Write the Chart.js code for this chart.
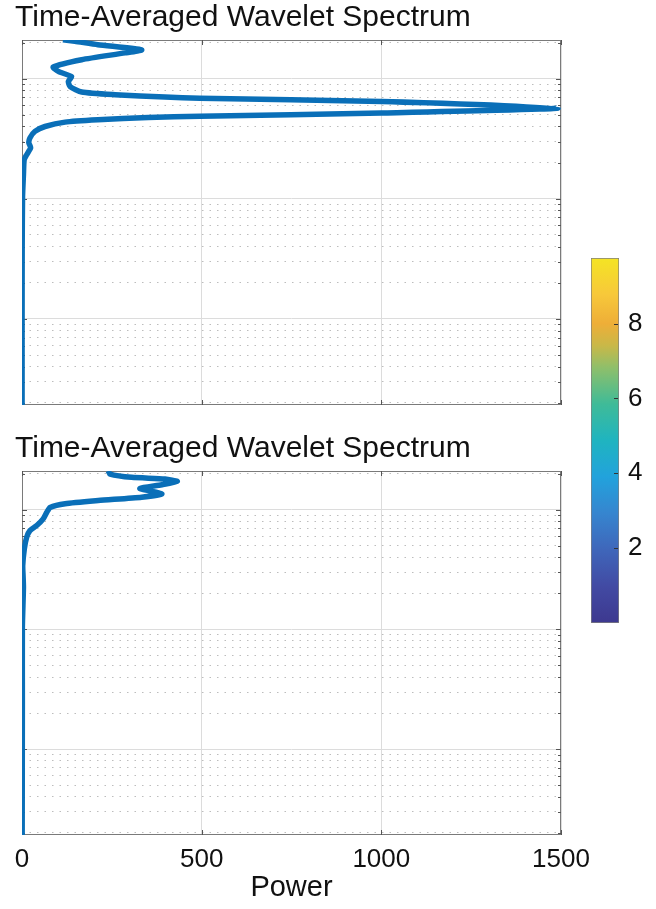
<!DOCTYPE html>
<html>
<head>
<meta charset="utf-8">
<script src="https://cdn.jsdelivr.net/npm/chart.js@4.4.1/dist/chart.umd.min.js"></script>
<style>
  html, body { margin: 0; padding: 0; background: #fff; }
  body { width: 656px; height: 909px; position: relative; overflow: hidden; }
  .box { position: absolute; }
</style>
</head>
<body>
<div class="box" style="left:0;top:0;width:600px;height:410px"><canvas id="topChart"></canvas></div>
<div class="box" style="left:0;top:431px;width:600px;height:478px"><canvas id="bottomChart"></canvas></div>
<div class="box" style="left:585px;top:240px;width:71px;height:400px"><canvas id="colorbar"></canvas></div>
<script>
// Period (log axis, top to bottom) and averaged power
const topPeriod = [211, 205, 192, 174, 164, 144, 125, 115, 104, 95, 86, 77.5, 73.6, 70.4, 68.8, 64.7, 57.0,
    51.8, 48.7, 47.6, 45.5, 43.5, 40.0, 36.4, 32.1, 29.3, 26.6, 23.3, 21.1, 15.8, 10.4, 3.76, 1.44, 0.552, 0.192];
const topPower = [114, 147, 211, 333, 287, 166, 87, 101, 138, 129, 134, 166, 259, 398, 495, 1001, 1492,
    1001, 495, 351, 211, 120, 64, 36, 22, 19, 24, 13, 6, 4, 1.5, 0.5, 0.3, 0.2, 0.2];

// Same for the lower panel
const bottomPeriod = [211, 198, 186, 180, 172, 161, 150, 144, 135, 127, 119, 112, 104, 95, 83.6, 73.6, 66.8,
    58.8, 47.0, 34.1, 28, 22.4, 10.4, 2.56, 0.192];
const bottomPower = [240, 245, 305, 398, 432, 389, 328, 352, 389, 333, 212, 120, 78, 69, 59, 41, 22,
    13, 6.5, 2, 3, 4, 1, 1, 0.5];

const powerTicks = [0, 500, 1000, 1500];
const periodRange = [0.192, 210];
const colorbarTicks = [2, 4, 6, 8];
const colorbarRange = [0, 9.75];
// colormap as it looks in the picture, bottom to top
const colormapStops = [
    [0.00, '#3d388f'], [0.10, '#424aa3'], [0.20, '#3f66ba'], [0.30, '#3685cf'],
    [0.40, '#22a2dc'], [0.50, '#1fb4c0'], [0.60, '#3fbb98'], [0.70, '#8fbf6a'],
    [0.76, '#c9b848'], [0.82, '#eeae38'], [0.90, '#f7c83a'], [1.00, '#f4e424']
];
const titleText = 'Time-Averaged Wavelet Spectrum';

Chart.defaults.font.family = "'Liberation Sans', Arial, Helvetica, sans-serif";
Chart.defaults.color = '#111';

// Grid positions for the log axis: 1..9 times each decade
const periodGrid = [];
for (let e = -1; e <= 2; e++) {
    for (let m = 1; m <= 9; m++) {
        const v = m * Math.pow(10, e);
        if (v > periodRange[0] && v < periodRange[1]) periodGrid.push(v);
    }
}

function isDecade(v) {
    const l = Math.log10(v);
    return Math.abs(l - Math.round(l)) < 1e-9;
}

// Axes box and small inward tick marks, drawn under the curve
const boxPlugin = {
    id: 'axesBox',
    beforeDatasetsDraw(chart) {
        const { ctx, chartArea: a, scales } = chart;
        ctx.save();
        ctx.strokeStyle = '#7a7a7a';
        ctx.lineWidth = 1;
        ctx.strokeRect(Math.round(a.left) + 0.5, Math.round(a.top) + 0.5, Math.round(a.width) - 1, Math.round(a.height) - 1);
        ctx.strokeStyle = '#555';
        ctx.beginPath();
        scales.y.ticks.forEach(t => {
            const y = Math.round(scales.y.getPixelForValue(t.value)) + 0.5;
            const len = isDecade(t.value) ? 5 : 3;
            ctx.moveTo(a.left, y); ctx.lineTo(a.left + len, y);
            ctx.moveTo(a.right, y); ctx.lineTo(a.right - len, y);
        });
        scales.x.ticks.forEach(t => {
            const x = Math.round(scales.x.getPixelForValue(t.value)) + 0.5;
            ctx.moveTo(x, a.top); ctx.lineTo(x, a.top + 5);
            ctx.moveTo(x, a.bottom); ctx.lineTo(x, a.bottom - 5);
        });
        ctx.stroke();
        ctx.restore();
    }
};

// Tick marks on the inner right edge of the colorbar
const colorbarTickPlugin = {
    id: 'colorbarTicks',
    afterDatasetsDraw(chart) {
        const { ctx, chartArea: a, scales } = chart;
        ctx.save();
        ctx.strokeStyle = '#333';
        ctx.lineWidth = 1;
        ctx.beginPath();
        scales.y.ticks.forEach(t => {
            const y = Math.round(scales.y.getPixelForValue(t.value)) + 0.5;
            ctx.moveTo(a.right - 1, y); ctx.lineTo(a.right - 5, y);
        });
        ctx.stroke();
        ctx.restore();
    }
};

function makeSpectrum(canvasId, periods, powers, showXAxis) {
    const points = periods.map((p, i) => ({ x: powers[i], y: p }));
    return new Chart(document.getElementById(canvasId), {
        type: 'scatter',
        data: {
            datasets: [{
                data: points,
                showLine: true,
                borderColor: '#0a6fb8',
                borderWidth: 5.5,
                pointRadius: 0,
                tension: 0.2,
                fill: false
            }]
        },
        options: {
            responsive: true,
            maintainAspectRatio: false,
            animation: false,
            layout: { padding: { left: 15, right: 39, top: 0, bottom: showXAxis ? 4 : 5 } },
            plugins: {
                legend: { display: false },
                tooltip: { enabled: false },
                title: {
                    display: true,
                    text: titleText,
                    align: 'start',
                    color: '#111',
                    font: { size: 30, weight: 'normal' },
                    padding: { top: 0, bottom: 4 }
                }
            },
            scales: {
                x: {
                    type: 'linear',
                    min: powerTicks[0],
                    max: powerTicks[powerTicks.length - 1],
                    afterBuildTicks: axis => { axis.ticks = powerTicks.map(v => ({ value: v })); },
                    afterFit: axis => { axis.height = showXAxis ? 70 : 0; },
                    grid: { color: '#dcdcdc', lineWidth: 1, drawTicks: false },
                    border: { display: false },
                    ticks: {
                        display: showXAxis,
                        padding: 9,
                        color: '#111',
                        font: { size: 26 },
                        callback: v => String(v)
                    },
                    title: {
                        display: showXAxis,
                        text: 'Power',
                        color: '#111',
                        font: { size: 29 },
                        padding: { top: 0, bottom: 0 }
                    }
                },
                y: {
                    type: 'logarithmic',
                    min: periodRange[0],
                    max: periodRange[1],
                    afterBuildTicks: axis => { axis.ticks = periodGrid.map(v => ({ value: v })); },
                    afterFit: axis => { axis.width = 7; },
                    grid: {
                        drawTicks: false,
                        lineWidth: 1,
                        color: ctx => (ctx.tick && isDecade(ctx.tick.value)) ? '#dcdcdc' : '#bdbdbd'
                    },
                    border: {
                        display: false,
                        dash: ctx => (ctx.tick && isDecade(ctx.tick.value)) ? [] : [1.5, 6]
                    },
                    ticks: { display: false }
                }
            }
        },
        plugins: [boxPlugin]
    });
}

function colormapGradient(ctx) {
    const area = ctx.chart.chartArea;
    if (!area) return colormapStops[0][1];
    const g = ctx.chart.ctx.createLinearGradient(0, area.bottom, 0, area.top);
    colormapStops.forEach(([pos, c]) => g.addColorStop(pos, c));
    return g;
}

makeSpectrum('topChart', topPeriod, topPower, false);
makeSpectrum('bottomChart', bottomPeriod, bottomPower, true);

// Colorbar
new Chart(document.getElementById('colorbar'), {
    type: 'bar',
    data: {
        labels: [''],
        datasets: [{
            data: [colorbarRange],
            backgroundColor: colormapGradient,
            borderColor: '#7f7f7f',
            borderWidth: 1,
            borderSkipped: false,
            barPercentage: 1,
            categoryPercentage: 1
        }]
    },
    options: {
        responsive: true,
        maintainAspectRatio: false,
        animation: false,
        layout: { padding: { left: 6, right: 0, top: 18, bottom: 17 } },
        plugins: { legend: { display: false }, tooltip: { enabled: false } },
        scales: {
            x: { display: false },
            y: {
                position: 'right',
                min: colorbarRange[0],
                max: colorbarRange[1],
                afterBuildTicks: axis => { axis.ticks = colorbarTicks.map(v => ({ value: v })); },
                afterFit: axis => { axis.width = 37; axis.paddingTop = 0; axis.paddingBottom = 0; },
                grid: { display: false, drawTicks: false },
                border: { display: false },
                ticks: { padding: 9, color: '#111', font: { size: 26 } }
            }
        }
    },
    plugins: [colorbarTickPlugin]
});
</script>
</body>
</html>
